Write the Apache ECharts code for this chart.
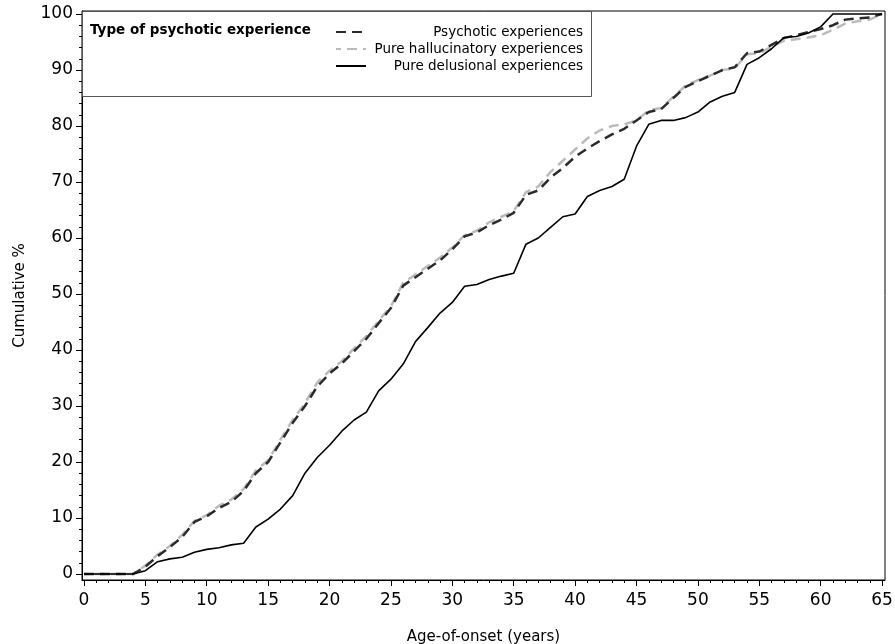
<!DOCTYPE html>
<html>
<head>
<meta charset="utf-8">
<script src="https://cdn.jsdelivr.net/npm/echarts@6/dist/echarts.min.js"></script>
<style>
  html, body { margin: 0; padding: 0; background: #fff; }
  #chart { width: 895px; height: 644px; }
</style>
</head>
<body>
<div id="chart"></div>
<script>
// ages 0..65
var ages = [];
for (var a = 0; a <= 65; a++) ages.push(a);

var psychotic = [0, 0, 0, 0, 0, 1.3, 3.2, 4.8, 6.6, 9.3,
  10.3, 11.8, 12.9, 14.8, 18, 20, 23.5, 27, 30, 33.5,
  35.8, 37.6, 39.8, 42, 44.8, 47.5, 51.5, 53, 54.5, 56,
  58, 60.3, 61, 62.3, 63.3, 64.5, 67.7, 68.5, 70.8, 72.5,
  74.5, 76, 77.3, 78.5, 79.5, 81, 82.5, 83, 85, 87,
  88, 89, 90, 90.5, 93, 93.3, 94.5, 95.7, 96.2, 96.8,
  97.3, 98, 99, 99.2, 99.4, 100];

var hallucinatory = [0, 0, 0, 0, 0, 1.5, 3.5, 5, 7, 9.5,
  10.5, 12.2, 13.3, 15.2, 18.5, 20.3, 24, 27.5, 30.5, 34.2,
  36.3, 38, 40.3, 42.5, 45.2, 47.8, 52, 53.5, 55, 56.5,
  58.3, 60.5, 61.3, 62.8, 63.8, 64.8, 68.2, 69.2, 71.8, 73.8,
  75.8, 77.8, 79.2, 80, 80.3, 81, 82.8, 83.2, 85.2, 87.2,
  88.2, 89, 90, 90.3, 92.8, 93, 94.2, 95.2, 95.5, 95.8,
  96.2, 97.2, 98.3, 98.7, 99, 100];

var delusional = [0, 0, 0, 0, 0, 0.6, 2.2, 2.7, 3, 3.9,
  4.4, 4.7, 5.2, 5.5, 8.4, 9.8, 11.6, 14, 18, 20.8,
  23, 25.5, 27.5, 28.9, 32.7, 34.8, 37.5, 41.5, 44, 46.6,
  48.5, 51.4, 51.7, 52.6, 53.2, 53.7, 58.9, 60, 61.9, 63.8,
  64.3, 67.4, 68.5, 69.2, 70.5, 76.4, 80.3, 81, 81, 81.5,
  82.5, 84.3, 85.3, 86, 91, 92.2, 93.8, 95.8, 96, 96.6,
  97.7, 100, 100, 100, 100, 100];

var xMajor = [0, 5, 10, 15, 20, 25, 30, 35, 40, 45, 50, 55, 60, 65];
var yMajor = [0, 10, 20, 30, 40, 50, 60, 70, 80, 90, 100];
var xMinor = ages.filter(function (v) { return v % 5 !== 0; });
var yMinor = [];
for (var v = 2; v < 100; v += 2) if (v % 10 !== 0) yMinor.push(v);

function pairs(ys) {
  return ages.map(function (x, i) { return [x, ys[i]]; });
}

var labelFont = 'DejaVu Sans';
var xMin = -0.16, xMax = 65.24, yMin = -1.07, yMax = 100.54;

var chart = echarts.init(document.getElementById('chart'));
var option = {
  animation: false,
  backgroundColor: '#fff',
  grid: {
    left: 82, right: 10, top: 11, bottom: 64,
    outerBoundsMode: 'none',
    show: true, borderColor: '#000', borderWidth: 1
  },
  legend: {
    orient: 'vertical',
    left: 330, top: 20,
    itemWidth: 30, itemHeight: 10, itemGap: 3,
    selectedMode: false,
    itemStyle: { opacity: 0 },
    formatter: function (name) { return '{t|' + name + '}'; },
    textStyle: {
      rich: { t: { fontFamily: labelFont, fontSize: 13.5, color: '#000', width: 212, align: 'right' } }
    },
    data: ['Psychotic experiences', 'Pure hallucinatory experiences', 'Pure delusional experiences']
  },
  graphic: [
    { type: 'rect', shape: { x: 82.5, y: 11.5, width: 509, height: 85 },
      style: { fill: 'none', stroke: '#555', lineWidth: 1 }, z: 10 },
    { type: 'text', left: 90, top: 23,
      style: { text: 'Type of psychotic experience', font: 'bold 13.5px "DejaVu Sans"', fill: '#000' }, z: 10 }
  ],
  xAxis: [{
    type: 'value', min: xMin, max: xMax,
    name: 'Age-of-onset (years)', nameLocation: 'middle', nameGap: 50,
    nameTextStyle: { fontFamily: labelFont, fontSize: 15, color: '#000' },
    axisLine: { show: true, onZero: false, lineStyle: { color: '#000' } },
    axisTick: { show: true, length: 6, customValues: xMajor, lineStyle: { color: '#000' } },
    axisLabel: { customValues: xMajor, margin: 12, fontFamily: labelFont, fontSize: 17, color: '#000' },
    splitLine: { show: false }
  }, {
    type: 'value', min: xMin, max: xMax, position: 'bottom',
    axisLine: { show: false, onZero: false },
    axisTick: { show: true, inside: false, length: 3, customValues: xMinor, lineStyle: { color: '#000' } },
    axisLabel: { show: false },
    splitLine: { show: false }
  }],
  yAxis: [{
    type: 'value', min: yMin, max: yMax,
    name: 'Cumulative %', nameLocation: 'middle', nameGap: 54,
    nameTextStyle: { fontFamily: labelFont, fontSize: 15, color: '#000' },
    axisLine: { show: true, onZero: false, lineStyle: { color: '#000' } },
    axisTick: { show: true, length: 6, customValues: yMajor, lineStyle: { color: '#000' } },
    axisLabel: { customValues: yMajor, margin: 9, fontFamily: labelFont, fontSize: 17, color: '#000' },
    splitLine: { show: false }
  }, {
    type: 'value', min: yMin, max: yMax, position: 'left',
    axisLine: { show: false, onZero: false },
    axisTick: { show: true, inside: false, length: 3, customValues: yMinor, lineStyle: { color: '#000' } },
    axisLabel: { show: false },
    splitLine: { show: false }
  }],
  series: [
    {
      name: 'Psychotic experiences', type: 'line', showSymbol: false, symbol: 'none',
      data: pairs(psychotic), color: '#333',
      lineStyle: { color: '#2b2b2b', width: 2.5, type: [10, 6] }, z: 3
    },
    {
      name: 'Pure hallucinatory experiences', type: 'line', showSymbol: false, symbol: 'none',
      data: pairs(hallucinatory), color: '#bbb',
      lineStyle: { color: '#bbb', width: 2.5, type: [10, 6], dashOffset: 5 }, z: 2
    },
    {
      name: 'Pure delusional experiences', type: 'line', showSymbol: false, symbol: 'none',
      data: pairs(delusional), color: '#000',
      lineStyle: { color: '#000', width: 1.6 }, z: 4
    }
  ]
};
chart.setOption(option);
</script>
</body>
</html>
